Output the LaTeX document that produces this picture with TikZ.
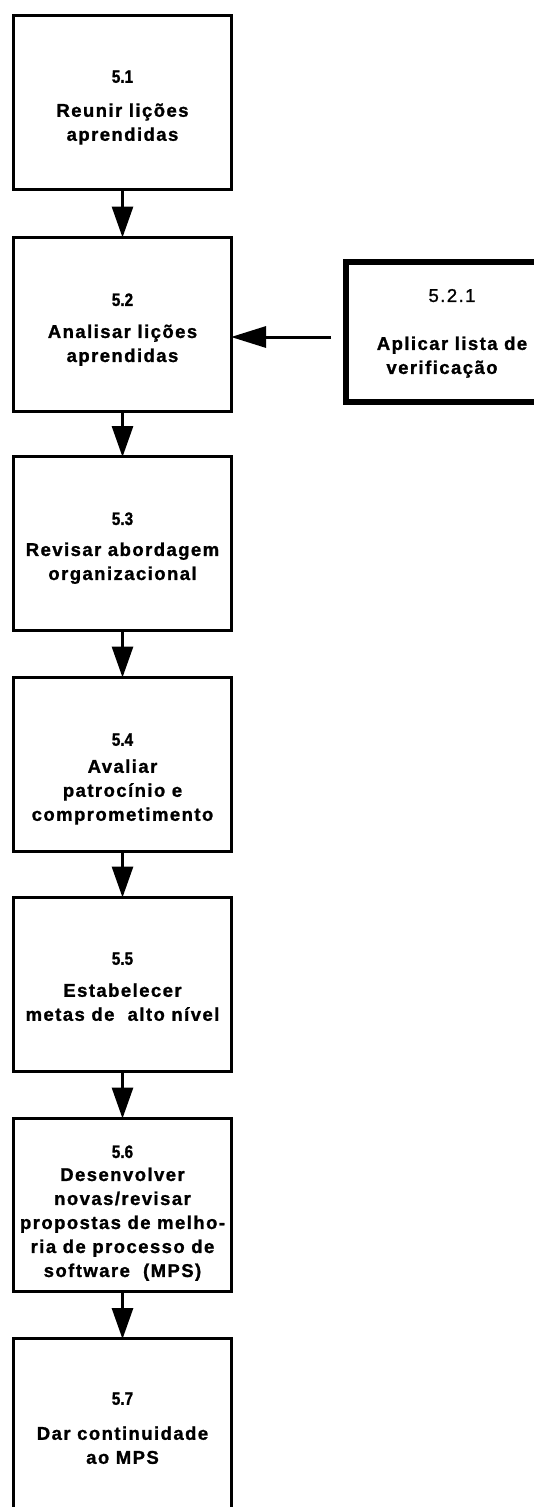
\documentclass[tikz,border=0pt]{standalone}
\usepackage{fontspec}
\setmainfont{Liberation Sans}
\newfontfamily\lblfont[LetterSpace=7.8,FakeBold=1.2]{Liberation Sans}
\newfontfamily\numfont[FakeBold=1.2,FakeStretch=0.85]{Liberation Sans}
\usetikzlibrary{arrows.meta,calc}
\newcommand\boxnum[1]{{\numfont\bfseries\fontsize{18}{24}\selectfont #1}}
\begin{document}
\begin{tikzpicture}[x=1pt,y=-1pt,
  box/.style={draw, line width=3pt, minimum width=218pt, minimum height=174pt, inner sep=0pt},
  subbox/.style={draw, line width=6pt, minimum width=199pt, minimum height=140pt, inner sep=0pt},
  txt/.style={anchor=north, align=center, inner sep=0pt,
    font=\lblfont\fontsize{18.5}{24}\selectfont\bfseries},
  flow/.style={line width=3pt, -{Triangle[width=21pt,length=31pt]}, shorten >=-2pt},
  side/.style={line width=3pt, -{Triangle[width=21pt,length=35pt]}, shorten >=-2pt, shorten <=12pt}
]
\useasboundingbox (0,0) rectangle (534,1507);
\fill[white] (0,0) rectangle (534,1507);
\clip (0,0) rectangle (534,1507);

% main column of steps
\node[box] (b1) at (122.5,102.5) {};
\node[box] (b2) at (122.5,324) {};
\node[box] (b3) at (122.5,543.5) {};
\node[box] (b4) at (122.5,764) {};
\node[box] (b5) at (122.5,984) {};
\node[box, minimum height=173.5pt] (b6) at (122.5,1204.75) {};
\node[box] (b7) at (122.5,1425.5) {};

% side step
\node[subbox] (b21) at (445.5,332) {};

% step texts
\node[txt] (t1) at (122.5,70.2) {\boxnum{5.1}\\[10pt]Reunir lições\\aprendidas};
\node[txt] (t2) at (122.5,293.2) {\boxnum{5.2}\\[8pt]Analisar lições\\aprendidas};
\node[txt] (t3) at (122.5,512.2) {\boxnum{5.3}\\[7pt]Revisar abordagem\\organizacional};
\node[txt] (t4) at (122.5,733.2) {\boxnum{5.4}\\[3pt]Avaliar\hspace*{16pt}\\patrocínio e\hspace*{16pt}\\comprometimento};
\node[txt] (t5) at (122.5,952.2) {\boxnum{5.5}\\[8pt]Estabelecer\hspace*{8pt}\\metas de~~alto nível};
\node[txt] (t6) at (122.5,1145.2) {\boxnum{5.6}\\[-1pt]Desenvolver\\novas/revisar\\propostas de melho-\\ria de processo de\\software~~(MPS)};
\node[txt] (t7) at (122.5,1392.2) {\boxnum{5.7}\\[11pt]Dar continuidade\\ao MPS};
\node[txt] (t21) at (452,288.8) {{\mdseries 5.2.1}\\[24pt]Aplicar lista de\\verificação\hspace*{20pt}};

% connectors
\draw[flow] (b1.south) -- (b2.north);
\draw[flow] (b2.south) -- (b3.north);
\draw[flow] (b3.south) -- (b4.north);
\draw[flow] (b4.south) -- (b5.north);
\draw[flow] (b5.south) -- (b6.north);
\draw[flow] (b6.south) -- (b7.north);
\draw[side] ([yshift=-5pt]b21.west) -- ([yshift=-5pt]b21.west -| b2.east);
\end{tikzpicture}
\end{document}
